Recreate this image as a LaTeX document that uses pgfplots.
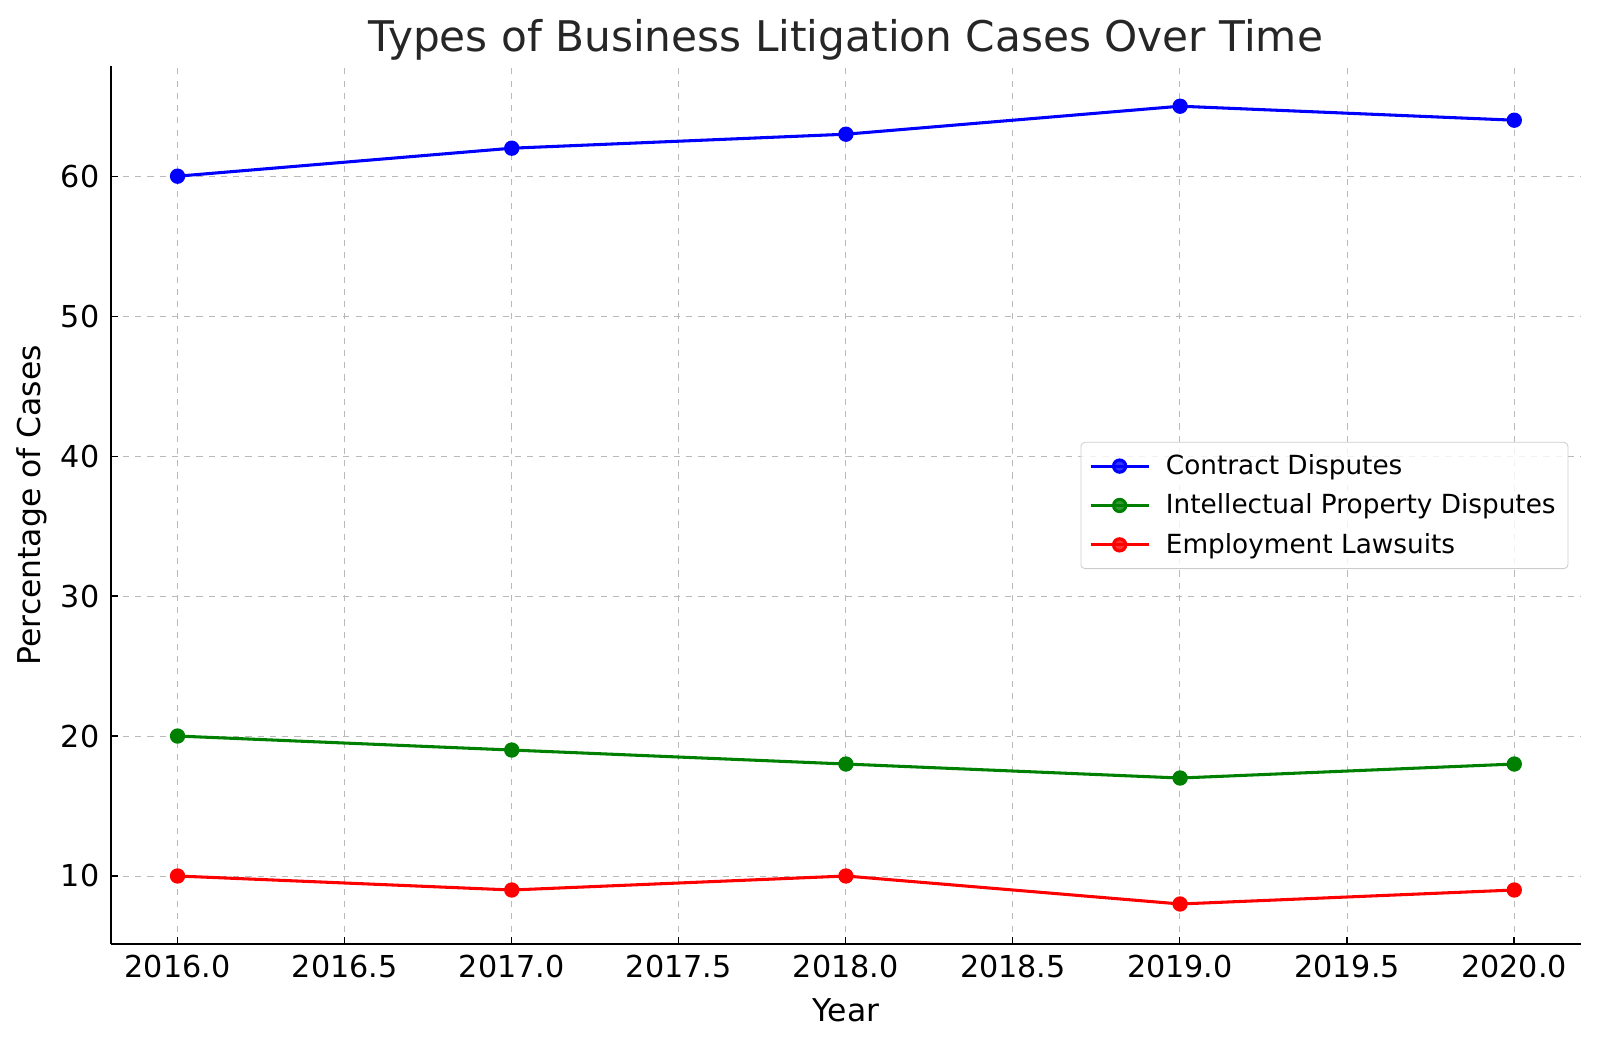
\documentclass[border=0pt]{standalone}
\usepackage{fontspec}
\setmainfont{DejaVu Sans}
\usepackage{pgfplots}
\pgfplotsset{compat=1.18}
\definecolor{mplgreen}{RGB}{0,128,0}

\begin{document}
\begin{tikzpicture}
\begin{axis}[
  scale only axis,
  width=720.5pt, height=430pt,
  xmin=2015.8, xmax=2020.2,
  ymin=5.15, ymax=67.85,
  xtick={2016,2016.5,...,2020},
  ytick={10,20,...,60},
  axis x line*=bottom, axis y line*=left,
  axis line style={-, line width=0.8pt, black},
  tick align=inside,
  major tick length=3.5pt,
  tick style={black, line width=0.6pt},
  grid=major,
  grid style={dashed, gray!55, line width=0.45pt},
  /pgf/number format/assume math mode=true,
  x tick label style={/pgf/number format/fixed, /pgf/number format/fixed zerofill,
    /pgf/number format/precision=1, /pgf/number format/1000 sep={}},
  ticklabel style={font=\fontsize{14.8}{17}\selectfont},
  xticklabel style={yshift=-2pt},
  yticklabel style={xshift=-2pt},
  xlabel={Year},
  ylabel={Percentage of Cases},
  label style={font=\fontsize{15.4}{18}\selectfont},
  xlabel style={yshift=-3pt},
  title={Types of Business Litigation Cases Over Time},
  title style={font=\fontsize{20.7}{24}\selectfont, text=black!85, at={(0.5,1)}, anchor=base, yshift=1.5pt},
  legend style={at={(0.9913,0.572)}, anchor=north east, font=\fontsize{12.9}{15}\selectfont,
    draw=black!20, rounded corners=2pt, fill=white, fill opacity=0.8, text opacity=1,
    row sep=4pt, inner xsep=4pt, inner ysep=4pt},
  legend cell align=left,
  legend image code/.code={
    \draw[#1] (0cm,0cm) -- (1cm,0cm);
    \draw[#1, only marks] plot coordinates {(0.5cm,0cm)};
    \path (1.2cm,0cm);
  },
  every axis plot/.append style={line width=1.5pt, mark=*, mark size=3pt},
]
\addplot[blue, mark options={fill=blue}] coordinates {(2016,60) (2017,62) (2018,63) (2019,65) (2020,64)};
\addlegendentry{Contract Disputes}
\addplot[mplgreen, mark options={fill=mplgreen}] coordinates {(2016,20) (2017,19) (2018,18) (2019,17) (2020,18)};
\addlegendentry{Intellectual Property Disputes}
\addplot[red, mark options={fill=red}] coordinates {(2016,10) (2017,9) (2018,10) (2019,8) (2020,9)};
\addlegendentry{Employment Lawsuits}
\coordinate (ll) at (rel axis cs:0,0);
\end{axis}
\pgfresetboundingbox
\path (ll) ++(-54.25pt,-49.5pt) rectangle ++(784pt,512pt);
\end{tikzpicture}
\end{document}
